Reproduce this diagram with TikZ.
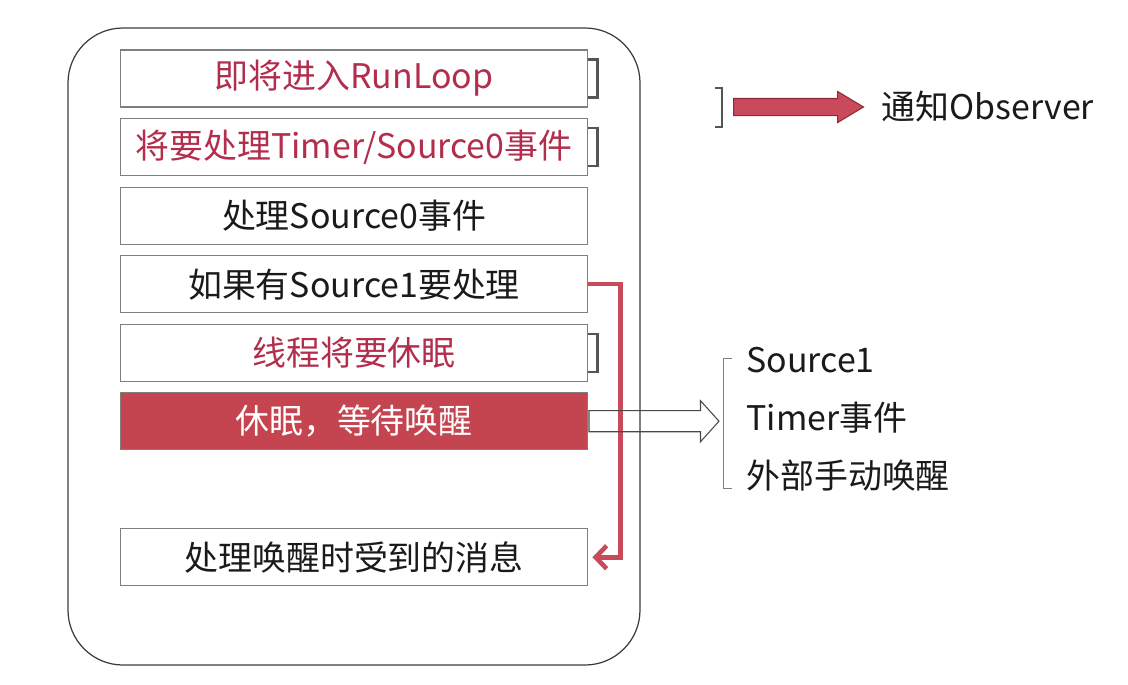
\documentclass[tikz,border=0pt]{standalone}
\usepackage{fontspec}
\setmainfont{Noto Sans CJK SC}
\usepackage{xcolor}
\usepackage{tikz}
\usetikzlibrary{arrows.meta,calc,positioning,shapes.arrows}
\definecolor{loopRed}{HTML}{B22E4C}
\definecolor{loopRedFill}{HTML}{C4444F}
\definecolor{loopRedArrow}{HTML}{C94A5A}
\definecolor{loopRedDark}{HTML}{8E2A38}
\definecolor{loopGray}{HTML}{7F7F7F}
\definecolor{loopBracket}{HTML}{555555}
\definecolor{loopInk}{HTML}{1A1A1A}
\tikzset{
  big text/.style={font=\fontsize{19.3}{23}\selectfont},
  stage box/.style={draw=loopGray, line width=0.6pt, minimum width=9.36cm,
    minimum height=1.14cm, inner sep=0pt, big text, text=loopInk},
  notify stage/.style={stage box, text=loopRed},
  sleep stage/.style={stage box, fill=loopRedFill, text=white},
  loop frame/.style={draw=loopInk!85, line width=0.7pt, rounded corners=1.1cm},
  notify mark/.style={draw=loopBracket, line width=1.2pt},
  source brace/.style={draw=loopGray, line width=0.7pt},
  wake flow/.style={-{Straight Barb[length=2.2mm,width=4.6mm]},
    line width=2.6pt, draw=loopRedArrow},
  hollow arrow/.style={single arrow, draw=loopInk!80, line width=0.6pt,
    minimum height=2.6cm, inner xsep=0pt, inner ysep=0.2cm,
    single arrow head extend=0.2cm, single arrow tip angle=96},
  notify arrow/.style={single arrow, draw=loopRedDark, fill=loopRedArrow,
    line width=0.6pt, minimum height=2.6cm, inner xsep=0pt, inner ysep=0.16cm,
    single arrow head extend=0.14cm, single arrow tip angle=62},
  side label/.style={anchor=west, inner sep=0pt, big text, text=loopInk}
}
\begin{document}
\begin{tikzpicture}[x=0.02cm, y=-0.02cm, node distance=0.21cm]
  \useasboundingbox (0,0) rectangle (1128,684);
  \draw[loop frame] (68,28) rectangle (640,665);
  % run loop stages
  \node[notify stage] (b1) at (354,78.5) {即将进入RunLoop};
  \node[notify stage, below=of b1] (b2) {将要处理Timer/Source0事件};
  \node[stage box, below=of b2] (b3) {处理Source0事件};
  \node[stage box, below=of b3] (b4) {如果有Source1要处理};
  \node[notify stage, below=of b4] (b5) {线程将要休眠};
  \node[sleep stage, below=of b5] (b6) {休眠，等待唤醒};
  \node[stage box, below=1.56cm of b6] (b7) {处理唤醒时受到的消息};
  % observer marks
  \foreach \b in {b1,b2,b5}
    \draw[notify mark] ([yshift=-0.2cm]\b.north east) -- ++(0.18cm,0)
      -- ++(0,-0.76cm) -- ++(-0.18cm,0);
  \draw[wake flow] (b4.east) -- ++(0.64cm,0) |- ([xshift=0.8mm]b7.east);
  % wake up sources
  \node[hollow arrow, anchor=tail] (wake) at (b6.east) {};
  \draw[source brace] ([xshift=0.24cm,yshift=1.26cm]wake.tip) -- ++(-0.16cm,0)
    -- ++(0,-2.6cm) -- ++(0.16cm,0);
  \node[side label] (src1) at (746,360) {Source1};
  \node[side label] (timer) at (746,418) {Timer事件};
  \node[side label] (manual) at (746,476) {外部手动唤醒};
  % legend
  \node[notify arrow, anchor=tail] (notify) at (733,107) {};
  \draw[notify mark] ([xshift=-0.36cm,yshift=0.38cm]notify.tail) -- ++(0.14cm,0)
    -- ++(0,-0.78cm) -- ++(-0.14cm,0);
  \node[side label, right=0.34cm of notify.tip] (observer) {通知Observer};
\end{tikzpicture}
\end{document}
